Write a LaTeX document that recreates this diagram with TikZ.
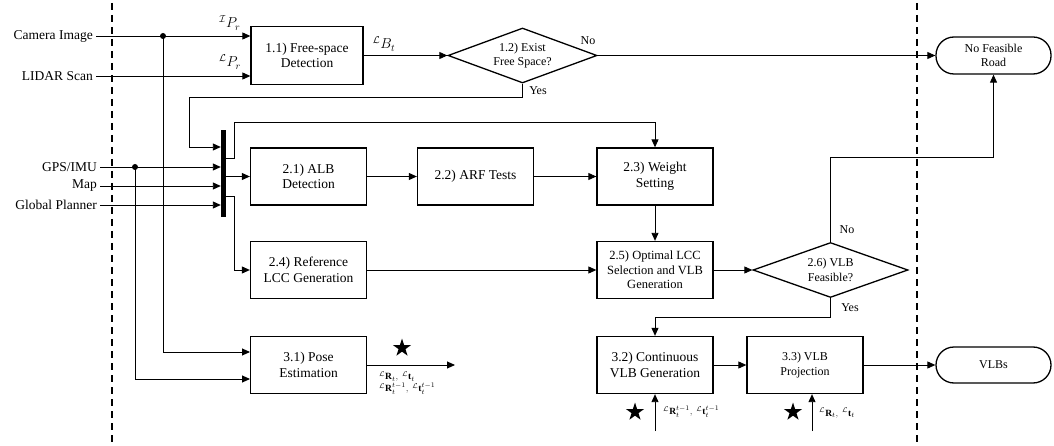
\documentclass[tikz,border=0pt]{standalone}
\usepackage{fontspec}
\setmainfont{Liberation Serif}
\usetikzlibrary{arrows.meta,shapes.geometric,calc}
\begin{document}
\begin{tikzpicture}[x=1pt,y=-1pt,
 box/.style={draw,line width=1.3pt,minimum width=116pt,minimum height=57pt,align=center,inner sep=2pt,font=\fontsize{13.5}{15.5}\selectfont},
 dia/.style={draw,diamond,line width=1.3pt,inner sep=0pt,align=center,font=\fontsize{12}{14.5}\selectfont},
 term/.style={draw,rounded corners=18pt,line width=1.3pt,minimum width=115pt,minimum height=37pt,align=center,font=\fontsize{12}{14.5}\selectfont},
 con/.style={line width=0.9pt},
 arr/.style={con,-{Triangle[length=8pt,width=7pt]}},
 lab/.style={font=\fontsize{13.5}{15}\selectfont,inner sep=3pt},
 sm/.style={font=\fontsize{12}{14}\selectfont,inner sep=0pt},
 mlab/.style={font=\fontsize{14}{16}\selectfont,inner sep=0pt},
 tiny/.style={font=\fontsize{9.5}{12}\selectfont,inner sep=0pt,align=left},
 dot/.style={circle,fill,inner sep=0pt,minimum size=6pt},
 starnode/.style={star,star points=5,star point ratio=2.6,fill,inner sep=0pt,minimum size=19pt},
 dashline/.style={line width=1.8pt,dash pattern=on 7pt off 5pt}
]
\useasboundingbox (0,0) rectangle (1054,446);
% dashed separators
\coordinate (dlt) at (112,3); \coordinate (dlb) at (112,446);
\coordinate (drt) at (917,3); \coordinate (drb) at (917,446);
\draw[dashline] (dlt) -- (dlb);
\draw[dashline] (drt) -- (drb);

% inputs
\node[lab,anchor=east] (cam) at (96,36) {Camera Image};
\node[lab,anchor=east] (lid) at (96,76) {LIDAR Scan};
\node[lab,anchor=east] (gps) at (100,167) {GPS/IMU};
\node[lab,anchor=east] (map) at (100,186) {Map};
\node[lab,anchor=east] (gpl) at (100,205) {Global Planner};

% blocks
\node[box,minimum width=112pt,minimum height=58pt] (b11) at (307,55.5) {1.1) Free-space\\Detection};
\node[dia,shape aspect=2.7,minimum width=149pt,minimum height=55pt] (d12) at (522.5,55.5) {1.2) Exist\\Free Space?};
\node[term] (nfr) at (993.5,55.5) {No Feasible\\Road};
\node[fill,minimum width=5pt,minimum height=87pt,inner sep=0pt] (bar) at (223.5,173.5) {};
\node[box] (alb) at (308.5,176.5) {2.1) ALB\\Detection};
\node[box] (arf) at (475.5,176.5) {2.2) ARF Tests};
\node[box] (wgt) at (655,176.5) {2.3) Weight\\Setting};
\node[box] (ref) at (308.5,270) {2.4) Reference\\LCC Generation};
\node[box,font=\fontsize{12.5}{14.3}\selectfont] (opt) at (655,270) {2.5) Optimal LCC\\Selection and VLB\\Generation};
\node[dia,shape aspect=2.8,minimum width=155pt,minimum height=55pt] (d26) at (830.5,270) {2.6) VLB\\Feasible?};
\node[box] (pose) at (308.5,365) {3.1) Pose\\Estimation};
\node[box] (cvg) at (655,365) {3.2) Continuous\\VLB Generation};
\node[box,font=\fontsize{12}{14.5}\selectfont] (prj) at (805,365) {3.3) VLB\\Projection};
\node[term,minimum height=36pt] (vlbs) at (993.5,365) {VLBs};

% junction dots
\node[dot] (cd) at (163,36) {};
\node[dot] (gd) at (135,167) {};

% helper coordinates
\coordinate (pin1) at (250,352);
\coordinate (pin2) at (250,379);
\coordinate (ya) at (189,97);
\coordinate (yb) at (189,147);
\coordinate (t1) at (226,158);
\coordinate (t2) at (234,122);
\coordinate (t3) at (234,196);
\coordinate (n2) at (993.5,157);
\coordinate (y2) at (830.5,317);
\coordinate (po) at (455,365);
\coordinate (u1) at (655,431);
\coordinate (u2) at (812,431);

% connectors
\draw[arr] (cam.east) -- (b11.west |- cam.east);
\draw[arr] (lid.east) -- (b11.west |- lid.east);
\draw[arr] (cd.center) |- (pin1);
\draw[arr] (gd.center) |- (pin2);
\draw[arr] (gps.east) -- (bar.west |- gps.east);
\draw[arr] (map.east) -- (bar.west |- map.east);
\draw[arr] (gpl.east) -- (bar.west |- gpl.east);
\draw[arr] (b11.east) -- (d12.west);
\draw[arr] (d12.east) -- (nfr.west);
\draw[arr] (d12.south) |- (ya) -- (yb) -- (bar.west |- yb);
\draw[arr] (bar.east |- alb.west) -- (alb.west);
\draw[arr] (bar.east |- t1) -| (t2) -| (wgt.north);
\draw[arr] (bar.east |- t3) -- (t3) |- (ref.west);
\draw[arr] (alb.east) -- (arf.west);
\draw[arr] (arf.east) -- (wgt.west);
\draw[arr] (wgt.south) -- (opt.north);
\draw[arr] (ref.east) -- (opt.west);
\draw[arr] (opt.east) -- (d26.west);
\draw[arr] (d26.north) |- (n2) -- (nfr.south);
\draw[arr] (d26.south) -- (y2) -| (cvg.north);
\draw[arr] (cvg.east) -- (prj.west);
\draw[arr] (prj.east) -- (vlbs.west);
\draw[arr] (pose.east) -- (po);
\draw[arr] (u1) -- (cvg.south);
\draw[arr] (u2) -- (u2 |- prj.south);

% labels
\node[mlab] (lip) at (230,23) {${}^{\mathcal{I}}P_r$};
\node[mlab] (llp) at (230,62) {${}^{\mathcal{L}}P_r$};
\node[mlab] (lbt) at (384,44) {${}^{\mathcal{L}}B_t$};
\node[sm] (no1) at (588,41) {No};
\node[sm] (yes1) at (538,91) {Yes};
\node[sm] (no2) at (847,230) {No};
\node[sm] (yes2) at (850,308) {Yes};

\node[starnode] (s1) at (402,348) {};
\node[starnode] (s2) at (635,412) {};
\node[starnode] (s3) at (793,412) {};
\node[tiny,anchor=west] (pl) at (379,383) {${}^{\mathcal{L}}\mathbf{R}_t,\ {}^{\mathcal{L}}\mathbf{t}_t$\\${}^{\mathcal{L}}\mathbf{R}_t^{t-1},\ {}^{\mathcal{L}}\mathbf{t}_t^{t-1}$};
\node[tiny,anchor=west] (cl) at (663,412) {${}^{\mathcal{L}}\mathbf{R}_t^{t-1},\ {}^{\mathcal{L}}\mathbf{t}_t^{t-1}$};
\node[tiny,anchor=west] (prl) at (819,413) {${}^{\mathcal{L}}\mathbf{R}_t,\ {}^{\mathcal{L}}\mathbf{t}_t$};
\end{tikzpicture}
\end{document}
